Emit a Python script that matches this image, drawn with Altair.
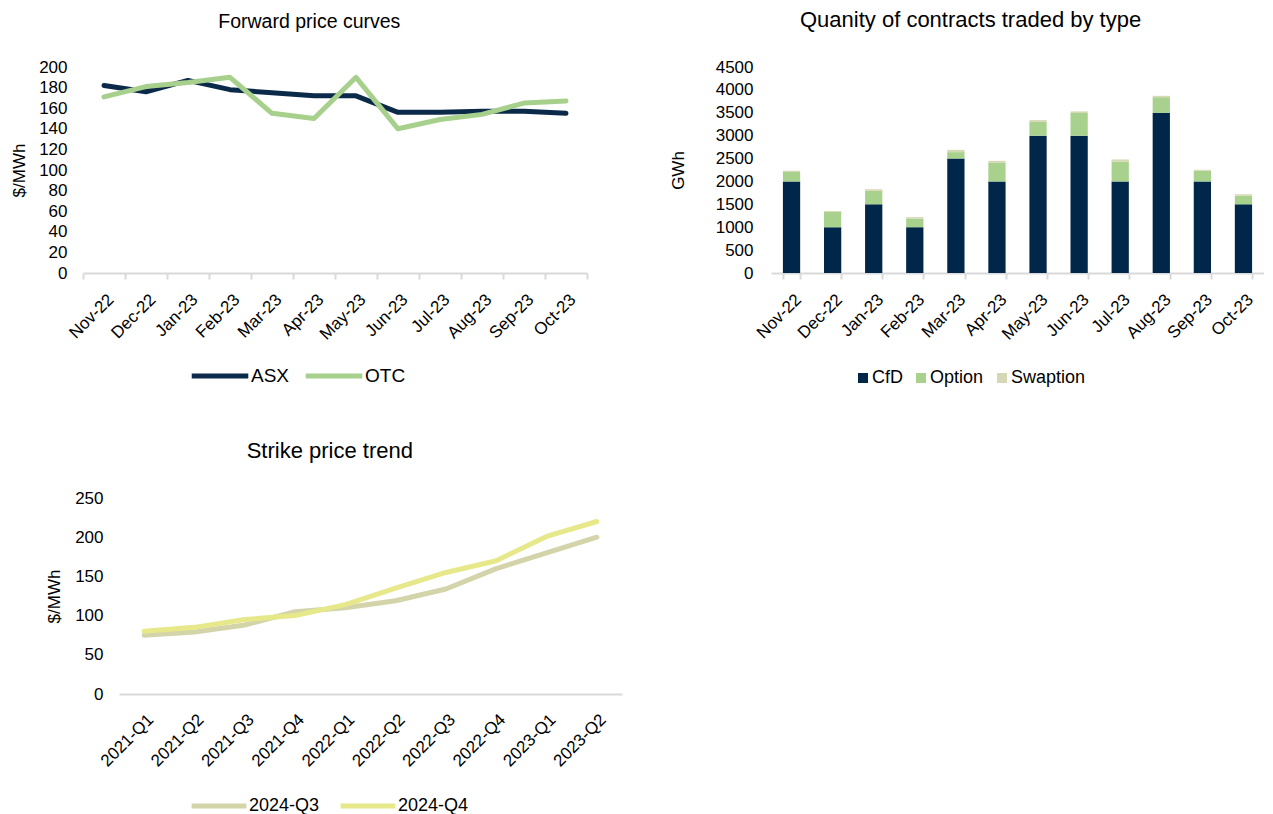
import altair as alt
import pandas as pd

FONT = "Liberation Sans"

# ---------------- data ----------------
months = ["Nov-22", "Dec-22", "Jan-23", "Feb-23", "Mar-23", "Apr-23",
          "May-23", "Jun-23", "Jul-23", "Aug-23", "Sep-23", "Oct-23"]
asx = [182, 176, 187, 178, 175, 172, 172, 156, 156, 157, 157, 155]
otc = [171, 181, 185, 190, 155, 150, 190, 140, 149, 154, 165, 167]

cfd = [2000, 1000, 1500, 1000, 2500, 2000, 3000, 3000, 2000, 3500, 2000, 1500]
option = [206, 340, 295, 190, 140, 405, 300, 495, 435, 340, 235, 190]
swaption = [30, 15, 35, 30, 50, 45, 40, 35, 45, 30, 20, 30]

quarters = ["2021-Q1", "2021-Q2", "2021-Q3", "2021-Q4", "2022-Q1",
            "2022-Q2", "2022-Q3", "2022-Q4", "2023-Q1", "2023-Q2"]
q3_2024 = [75, 79, 88, 105, 110, 119, 134, 160, 180, 200]
q4_2024 = [80, 85, 95, 100, 114, 135, 155, 170, 201, 220]

fwd_series = ["ASX", "OTC"]
fwd_colors = ["#0b2a4a", "#a8d08d"]
bar_types = ["CfD", "Option", "Swaption"]
bar_colors = ["#002649", "#a9d18e", "#d6d7b4"]
strike_series = ["2024-Q3", "2024-Q4"]
strike_colors = ["#d3d4aa", "#e6e88a"]

fwd_ticks = list(range(0, 201, 20))
bar_ticks = list(range(0, 4501, 500))
strike_ticks = list(range(0, 251, 50))

GRID = "#d9d9d9"


def make_title(text, size, dx=0):
    return alt.Title(text, fontSize=size, fontWeight="normal", font=FONT,
                     color="black", offset=26, frame="bounds", anchor="middle", dx=dx)


# ---------------- chart 1 ----------------
df1 = pd.DataFrame({
    "month": months * 2,
    "series": ["ASX"] * len(months) + ["OTC"] * len(months),
    "value": asx + otc,
})

c1 = alt.Chart(df1, title=make_title("Forward price curves", 19.5, dx=10)).mark_line(
    strokeWidth=5, strokeJoin="round", strokeCap="round"
).encode(
    x=alt.X("month:N", sort=months,
            scale=alt.Scale(type="band", paddingInner=0, paddingOuter=0),
            axis=alt.Axis(title=None, labelAngle=-45, labelFontSize=17, labelAlign="right",
                          labelBaseline="top", labelOffset=1, tickBand="extent", tickSize=6,
                          tickColor=GRID, tickWidth=2, domainColor=GRID, domainWidth=2,
                          labelPadding=12, grid=False)),
    y=alt.Y("value:Q", scale=alt.Scale(domain=[0, 200], nice=False),
            axis=alt.Axis(title="$/MWh", values=fwd_ticks, format="d", labelFontSize=17,
                          titleFontSize=17, titleFontWeight="normal", titlePadding=10,
                          domain=False, ticks=False, tickSize=0, labelPadding=16, grid=False)),
    color=alt.Color("series:N", scale=alt.Scale(domain=fwd_series, range=fwd_colors),
                    legend=alt.Legend(title=None, orient="none", legendX=106, legendY=278,
                                      direction="horizontal", symbolType="stroke",
                                      symbolStrokeWidth=5, symbolSize=3200,
                                      labelFontSize=19, columnPadding=5,
                                      labelOffset=0)),
).properties(width=504, height=206)

# ---------------- chart 2 ----------------
rows = []
for i, m in enumerate(months):
    rows.append({"month": m, "type": "CfD", "value": cfd[i], "ord": 0})
    rows.append({"month": m, "type": "Option", "value": option[i], "ord": 1})
    rows.append({"month": m, "type": "Swaption", "value": swaption[i], "ord": 2})
df2 = pd.DataFrame(rows)

c2 = alt.Chart(df2, title=make_title("Quanity of contracts traded by type", 22, dx=4)
               ).mark_bar().encode(
    x=alt.X("month:N", sort=months,
            scale=alt.Scale(type="band", paddingInner=0.58, paddingOuter=0.29),
            axis=alt.Axis(title=None, labelAngle=-45, labelFontSize=17, labelAlign="right",
                          labelBaseline="top", labelOffset=1, tickBand="extent", tickSize=6,
                          tickColor=GRID, tickWidth=2, domainColor=GRID, domainWidth=2,
                          labelPadding=12, grid=False)),
    y=alt.Y("value:Q", stack="zero", scale=alt.Scale(domain=[0, 4500], nice=False),
            axis=alt.Axis(title="GWh", values=bar_ticks, format="d", labelFontSize=17,
                          titleFontSize=17, titleFontWeight="normal", titlePadding=28,
                          domain=False, ticks=False, tickSize=0, labelPadding=18, grid=False)),
    color=alt.Color("type:N", scale=alt.Scale(domain=bar_types, range=bar_colors),
                    legend=alt.Legend(title=None, orient="none", legendX=83, legendY=302,
                                      direction="horizontal", symbolType="square",
                                      symbolSize=100, symbolStrokeWidth=0,
                                      labelFontSize=18, columnPadding=9,
                                      labelOffset=0)),
    order=alt.Order("ord:Q"),
).properties(width=493, height=206)

# ---------------- chart 3 ----------------
df3 = pd.DataFrame({
    "quarter": quarters * 2,
    "series": ["2024-Q3"] * len(quarters) + ["2024-Q4"] * len(quarters),
    "value": q3_2024 + q4_2024,
})

c3 = alt.Chart(df3, title=make_title("Strike price trend", 22, dx=-4)).mark_line(
    strokeWidth=5, strokeJoin="round", strokeCap="round"
).encode(
    x=alt.X("quarter:N", sort=quarters,
            scale=alt.Scale(type="band", paddingInner=0, paddingOuter=0),
            axis=alt.Axis(title=None, labelAngle=-45, labelFontSize=17, labelAlign="right",
                          labelBaseline="top", labelOffset=1, ticks=False, tickSize=0,
                          domainColor=GRID, domainWidth=2, labelPadding=17, grid=False)),
    y=alt.Y("value:Q", scale=alt.Scale(domain=[0, 250], nice=False),
            axis=alt.Axis(title="$/MWh", values=strike_ticks, format="d", labelFontSize=17,
                          titleFontSize=17, titleFontWeight="normal", titlePadding=11,
                          domain=False, ticks=False, tickSize=0, labelPadding=16, grid=False)),
    color=alt.Color("series:N", scale=alt.Scale(domain=strike_series, range=strike_colors),
                    legend=alt.Legend(title=None, orient="none", legendX=70, legendY=278,
                                      direction="horizontal", symbolType="stroke",
                                      symbolStrokeWidth=5, symbolSize=3000,
                                      labelFontSize=18, columnPadding=10,
                                      labelOffset=0)),
).properties(width=503, height=196)

spacer = alt.Chart(pd.DataFrame({"a": [0]})).mark_text(text="", opacity=0).encode(
    x=alt.value(0), y=alt.value(0)
).properties(width=1, height=1)

row1 = alt.hconcat(c1, c2, spacing=184, bounds="flush").resolve_scale(color="independent")
row2 = alt.hconcat(spacer, c3, spacing=35, bounds="flush").resolve_scale(color="independent")

chart = alt.vconcat(row1, row2, spacing=431, bounds="flush").resolve_scale(
    color="independent").properties(
    padding={"left": 2, "top": 1, "right": 0, "bottom": 0}
).configure(font=FONT).configure_view(stroke=None).configure_axis(
    labelColor="black", titleColor="black", labelFont=FONT, titleFont=FONT
).configure_legend(labelColor="black", labelFont=FONT)

chart.save("out.html", embed_options={"renderer": "svg", "actions": False})
